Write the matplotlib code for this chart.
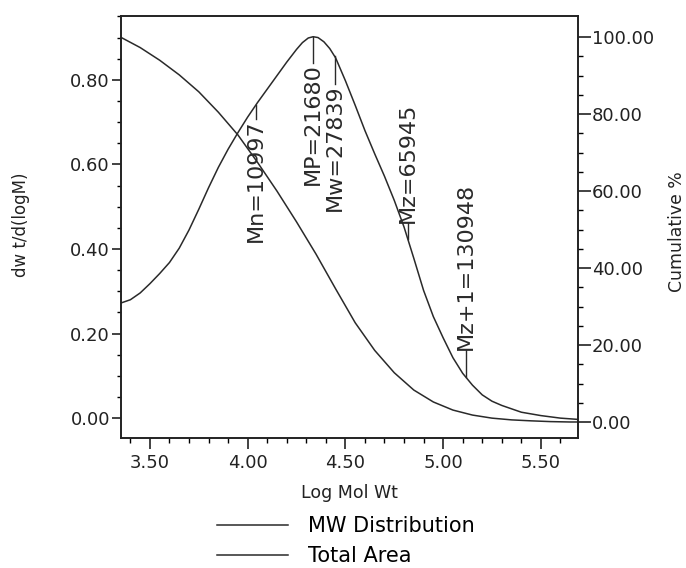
import matplotlib
matplotlib.use("Agg")
import matplotlib.pyplot as plt
import numpy as np
from matplotlib.ticker import MultipleLocator, FixedLocator, FormatStrFormatter

# GPC trace
log_mw = [3.35, 3.40, 3.45, 3.50, 3.55, 3.60, 3.65, 3.70, 3.75, 3.80, 3.85, 3.90,
          3.95, 4.00, 4.05, 4.10, 4.15, 4.20, 4.25, 4.28, 4.31, 4.335, 4.36, 4.39,
          4.42, 4.45, 4.50, 4.55, 4.60, 4.65, 4.70, 4.75, 4.80, 4.85, 4.90, 4.95,
          5.00, 5.05, 5.10, 5.15, 5.20, 5.25, 5.30, 5.40, 5.50, 5.60, 5.69]
mw_dist = [0.272, 0.280, 0.296, 0.318, 0.342, 0.368, 0.402, 0.445, 0.494, 0.545,
           0.593, 0.636, 0.675, 0.712, 0.746, 0.778, 0.810, 0.842, 0.872, 0.888,
           0.899, 0.902, 0.900, 0.890, 0.874, 0.852, 0.798, 0.740, 0.680, 0.625,
           0.572, 0.515, 0.452, 0.378, 0.302, 0.240, 0.190, 0.143, 0.106, 0.078,
           0.055, 0.040, 0.030, 0.014, 0.006, 0.000, -0.003]

log_cum = [3.35, 3.45, 3.55, 3.65, 3.75, 3.85, 3.95, 4.05, 4.15, 4.25, 4.35, 4.45,
           4.55, 4.65, 4.75, 4.85, 4.95, 5.05, 5.15, 5.25, 5.35, 5.45, 5.55, 5.65, 5.69]
cum_pct = [100.0, 97.3, 94.0, 90.2, 85.8, 80.5, 74.6, 67.5, 60.0, 52.0, 43.6, 34.6,
           25.8, 18.6, 12.8, 8.3, 5.2, 3.1, 1.8, 1.0, 0.55, 0.3, 0.1, 0.0, 0.0]

# molecular weight averages
avg_names = ["Mn", "MP", "Mw", "Mz", "Mz+1"]
avg_values = [10997, 21680, 27839, 65945, 130948]
avg_side = ["below", "below", "below", "above", "above"]
avg_stem = [0.033, 0.062, 0.066, 0.038, 0.064]

ink = "#2a2a2a"

fig = plt.figure(figsize=(6.86, 5.68), dpi=100)
ax = fig.add_axes([121 / 686, 130 / 568, 457 / 686, 422 / 568])
ax2 = ax.twinx()

line1, = ax.plot(log_mw, mw_dist, color=ink, lw=1.1, label="MW Distribution")
line2, = ax2.plot(log_cum, cum_pct, color=ink, lw=1.1, label="Total Area")

ax.set_xlim(3.352, 5.69)
ax.set_ylim(-0.047, 0.951)
ax2.set_ylim(-4.16, 105.5)

# markers for the averages
for name, val, side, stem in zip(avg_names, avg_values, avg_side, avg_stem):
    lx = np.log10(val)
    ly = np.interp(lx, log_mw, mw_dist)
    if side == "below":
        end = ly - stem
        va = "top"
    else:
        end = ly + stem
        va = "bottom"
    ax.plot([lx, lx], [ly, end], color=ink, lw=1.0)
    ax.text(lx, end, f"{name}={val}", rotation=90, ha="center", va=va,
            fontsize=16, color=ink)

# axes styling
for a in (ax, ax2):
    for sp in a.spines.values():
        sp.set_linewidth(1.2)
        sp.set_color("#222222")

ax.xaxis.set_major_locator(FixedLocator([3.5, 4.0, 4.5, 5.0, 5.5]))
ax.xaxis.set_minor_locator(MultipleLocator(0.1))
ax.xaxis.set_major_formatter(FormatStrFormatter("%.2f"))
ax.yaxis.set_major_locator(FixedLocator([0.0, 0.2, 0.4, 0.6, 0.8]))
ax.yaxis.set_minor_locator(FixedLocator(np.arange(0, 0.951, 0.05)))
ax.yaxis.set_major_formatter(FormatStrFormatter("%.2f"))
ax2.yaxis.set_major_locator(FixedLocator([0, 20, 40, 60, 80, 100]))
ax2.yaxis.set_minor_locator(FixedLocator(np.arange(0, 101, 5)))
ax2.yaxis.set_major_formatter(FormatStrFormatter("%.2f"))

ax.tick_params(axis="x", which="major", direction="out", length=8, width=1.2,
               pad=3.5, labelsize=13, colors="#222222")
ax.tick_params(axis="x", which="minor", direction="out", length=3.6, width=1.0)
ax.tick_params(axis="y", which="major", direction="out", length=6.5, width=1.2,
               pad=1.5, labelsize=13, colors="#222222")
ax.tick_params(axis="y", which="minor", direction="out", length=3.2, width=1.0)
ax2.tick_params(axis="y", which="major", direction="out", length=9, width=1.2,
                pad=1, labelsize=13, colors="#222222")
ax2.tick_params(axis="y", which="minor", direction="out", length=3.6, width=1.0)

ax.set_xlabel("Log Mol Wt", fontsize=12.5, color="#222222")
ax.xaxis.set_label_coords(0.5, -0.109)
ax.set_ylabel("dw t/d(logM)", fontsize=12, color="#222222")
ax.yaxis.set_label_coords(-0.199, 0.505)
ax2.set_ylabel("Cumulative %", fontsize=12.4, color="#222222")
ax2.yaxis.set_label_coords(1.198, 0.49)

fig.legend(handles=[line1, line2], loc="upper left",
           bbox_to_anchor=(217 / 686, 1 - 516 / 568), frameon=False,
           fontsize=15, handlelength=3.4, handletextpad=0.95,
           labelspacing=0.5, borderpad=0, borderaxespad=0)

fig.savefig("out.png", dpi=100, facecolor="white")
